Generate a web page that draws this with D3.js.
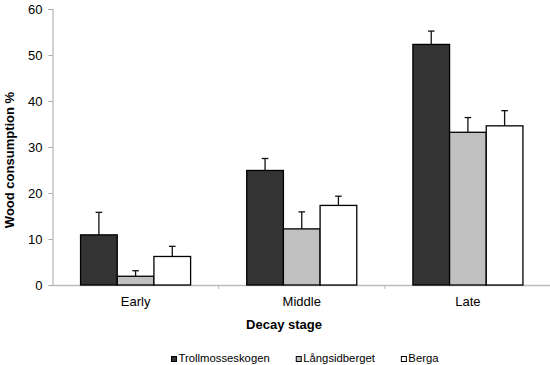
<!DOCTYPE html>
<html>
<head>
<meta charset="utf-8">
<script src="https://cdn.jsdelivr.net/npm/d3@7"></script>
<style>
	body{margin:0;background:#fff}
	svg{display:block}
	text{font-family:"Liberation Sans",Arial,sans-serif;fill:#000}
</style>
</head>
<body>
<div id="chart"></div>
<script>
// data
var stages=["Early","Middle","Late"]
var sites=["Trollmosseskogen","Långsidberget","Berga"]
var siteColors=["#333333","#c0c0c0","#ffffff"]
var trollmosseskogen=[10.9,24.9,52.3]
var langsidberget=[1.9,12.2,33.2]
var berga=[6.2,17.3,34.6]
var trollmosseskogenErr=[4.9,2.6,2.9]
var langsidbergetErr=[1.2,3.7,3.2]
var bergaErr=[2.2,2.0,3.3]
var yTicks=[0,10,20,30,40,50,60]

var width=550, height=365
// plot area (window.top is reserved, so own names)
var plotLeft=52.5, plotRight=551, plotTop=9, plotBottom=285

var svg=d3.select("#chart").append("svg")
	.attr("width",width)
	.attr("height",height)

var values=[trollmosseskogen,langsidberget,berga]
var errs=[trollmosseskogenErr,langsidbergetErr,bergaErr]

var x0=d3.scaleBand().domain(stages).range([plotLeft,plotRight])
var x1=d3.scaleBand().domain(sites).range([0,x0.bandwidth()]).paddingOuter(0.765)
var y=d3.scaleLinear().domain([0,60]).range([plotBottom,plotTop])

// y axis
var yAxis=svg.append("g")
	.attr("transform","translate("+plotLeft+",0)")
	.call(d3.axisLeft(y).tickValues(yTicks).tickSize(4).tickPadding(6))
yAxis.selectAll("path,line").attr("stroke","#a6a6a6")
yAxis.selectAll("text").style("font-size","13px").attr("fill","#000")

// x axis: labels at centres, ticks at group boundaries
var xAxis=svg.append("g")
	.attr("transform","translate(0,"+plotBottom+")")
	.call(d3.axisBottom(x0).tickSize(0).tickPadding(12))
xAxis.select("path").attr("stroke","#bdbdbd").attr("stroke-width",1.6)
xAxis.selectAll("text").style("font-size","13px").attr("fill","#000")
var bounds=stages.map(function(d){return x0(d)}).concat([plotRight])
xAxis.selectAll(".bound")
	.data(bounds.slice(1,-1))
	.enter().append("line")
	.attr("class","bound")
	.attr("x1",function(d){return d}).attr("x2",function(d){return d})
	.attr("y1",0).attr("y2",4)
	.attr("stroke","#bdbdbd")

// bars
var rows=[]
sites.forEach(function(s,i){
	stages.forEach(function(st,j){
		rows.push({site:s,stage:st,v:values[i][j],e:errs[i][j],c:siteColors[i]})
	})
})

// error bars (upper only), drawn behind the bar outline
var eb=svg.append("g").selectAll("g")
	.data(rows)
	.enter().append("g")
eb.append("line")
	.attr("x1",function(d){return x0(d.stage)+x1(d.site)+x1.bandwidth()/2})
	.attr("x2",function(d){return x0(d.stage)+x1(d.site)+x1.bandwidth()/2})
	.attr("y1",function(d){return y(d.v)})
	.attr("y2",function(d){return y(d.v+d.e)})
	.attr("stroke","#111").attr("stroke-width",1.3)
eb.append("line")
	.attr("x1",function(d){return x0(d.stage)+x1(d.site)+x1.bandwidth()/2-3.3})
	.attr("x2",function(d){return x0(d.stage)+x1(d.site)+x1.bandwidth()/2+3.3})
	.attr("y1",function(d){return y(d.v+d.e)})
	.attr("y2",function(d){return y(d.v+d.e)})
	.attr("stroke","#111").attr("stroke-width",1.3)

svg.append("g").selectAll("rect")
	.data(rows)
	.enter().append("rect")
	.attr("x",function(d){return x0(d.stage)+x1(d.site)})
	.attr("y",function(d){return y(d.v)})
	.attr("width",x1.bandwidth())
	.attr("height",function(d){return y(0)-y(d.v)})
	.attr("fill",function(d){return d.c})
	.attr("stroke","#000")
	.attr("stroke-width",1.3)

// axis titles
svg.append("text")
	.attr("transform","translate(13.5,160) rotate(-90)")
	.attr("text-anchor","middle")
	.style("font-size","13px")
	.style("font-weight","bold")
	.text("Wood consumption %")

svg.append("text")
	.attr("x",284).attr("y",329)
	.attr("text-anchor","middle")
	.style("font-size","13px")
	.style("font-weight","bold")
	.text("Decay stage")

// legend
var lx=171
var legend=svg.append("g")
sites.forEach(function(s,i){
	legend.append("rect")
		.attr("x",lx+0.5).attr("y",356.5)
		.attr("width",5).attr("height",5)
		.attr("fill",siteColors[i])
		.attr("stroke","#000").attr("stroke-width",1)
	var t=legend.append("text")
		.attr("x",lx+7.5).attr("y",362.3)
		.style("font-size","11.3px")
		.text(s)
	lx=lx+7.5+t.node().getComputedTextLength()+26
})
</script>
</body>
</html>
